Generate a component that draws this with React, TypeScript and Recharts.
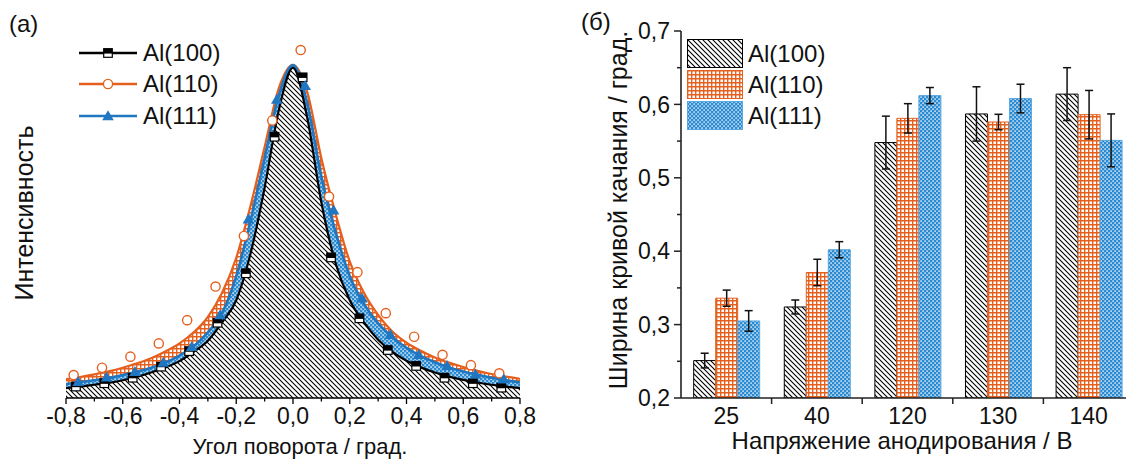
import React from 'react';
import { ComposedChart, Area, Scatter, XAxis, YAxis, BarChart, Bar, ErrorBar } from 'recharts';

// ---------- panel (a) data ----------
const curveX = [-0.8, -0.75, -0.7, -0.65, -0.6, -0.55, -0.5, -0.45, -0.4, -0.35, -0.3, -0.25, -0.2, -0.15, -0.1, -0.05, 0, 0.05, 0.1, 0.15, 0.2, 0.25, 0.3, 0.35, 0.4, 0.45, 0.5, 0.55, 0.6, 0.65, 0.7, 0.75, 0.8];
const curve100 = [0.027, 0.031, 0.036, 0.041, 0.048, 0.057, 0.069, 0.083, 0.1, 0.125, 0.155, 0.205, 0.265, 0.39, 0.57, 0.78, 0.895, 0.76, 0.53, 0.365, 0.265, 0.205, 0.158, 0.125, 0.101, 0.083, 0.069, 0.058, 0.049, 0.042, 0.036, 0.031, 0.027];
const curve111 = [0.038, 0.043, 0.048, 0.054, 0.062, 0.071, 0.082, 0.096, 0.115, 0.14, 0.178, 0.23, 0.33, 0.48, 0.65, 0.82, 0.902, 0.8, 0.6, 0.45, 0.33, 0.255, 0.202, 0.165, 0.136, 0.114, 0.097, 0.083, 0.072, 0.063, 0.055, 0.048, 0.042];
const curve110 = [0.051, 0.057, 0.064, 0.072, 0.082, 0.094, 0.108, 0.126, 0.148, 0.178, 0.22, 0.285, 0.38, 0.52, 0.68, 0.84, 0.903, 0.83, 0.65, 0.5, 0.37, 0.285, 0.225, 0.18, 0.15, 0.128, 0.11, 0.096, 0.084, 0.074, 0.065, 0.058, 0.052];

const mark100X = [-0.765, -0.665, -0.565, -0.465, -0.366, -0.266, -0.166, -0.065, 0.034, 0.134, 0.234, 0.334, 0.434, 0.534, 0.634, 0.734];
const mark100Y = [0.031, 0.04, 0.055, 0.085, 0.127, 0.204, 0.338, 0.708, 0.869, 0.381, 0.216, 0.13, 0.087, 0.055, 0.04, 0.028];
const mark110X = [-0.773, -0.673, -0.573, -0.473, -0.373, -0.273, -0.173, -0.073, 0.027, 0.127, 0.227, 0.327, 0.427, 0.527, 0.627, 0.727];
const mark110Y = [0.062, 0.082, 0.112, 0.148, 0.211, 0.302, 0.439, 0.752, 0.943, 0.546, 0.341, 0.23, 0.166, 0.117, 0.089, 0.067];
const mark111X = [-0.757, -0.657, -0.557, -0.457, -0.357, -0.257, -0.157, -0.057, 0.043, 0.143, 0.243, 0.343, 0.443, 0.543, 0.643, 0.743];
const mark111Y = [0.044, 0.056, 0.071, 0.096, 0.139, 0.225, 0.484, 0.809, 0.846, 0.509, 0.27, 0.171, 0.117, 0.087, 0.064, 0.051];

const leftXTicks = [-0.8, -0.7, -0.6, -0.5, -0.4, -0.3, -0.2, -0.1, 0, 0.1, 0.2, 0.3, 0.4, 0.5, 0.6, 0.7, 0.8];

// ---------- panel (б) data ----------
const voltages = ['25', '40', '120', '130', '140'];
const fwhm100 = [0.251, 0.324, 0.548, 0.587, 0.614];
const err100 = [0.01, 0.0095, 0.036, 0.037, 0.036];
const fwhm110 = [0.336, 0.371, 0.581, 0.576, 0.586];
const err110 = [0.011, 0.018, 0.02, 0.0105, 0.033];
const fwhm111 = [0.305, 0.402, 0.612, 0.608, 0.551];
const err111 = [0.014, 0.011, 0.011, 0.0195, 0.036];
const rightYTicks = [0.2, 0.25, 0.3, 0.35, 0.4, 0.45, 0.5, 0.55, 0.6, 0.65, 0.7];

const seriesNames = ['Al(100)', 'Al(110)', 'Al(111)'];

const curveRows = curveX.map((x, i) => ({ x, c100: curve100[i], c110: curve110[i], c111: curve111[i] }));
const pts = (xs: number[], ys: number[]) => xs.map((x, i) => ({ x, y: ys[i] }));
const barRows = voltages.map((v, i) => ({
  cat: v,
  k: fwhm100[i], kErr: err100[i],
  o: fwhm110[i], oErr: err110[i],
  b: fwhm111[i], bErr: err111[i],
}));

const FONT = '"Liberation Sans", Arial, Helvetica, sans-serif';
const ORANGE = '#e5601e';
const BLUE = '#1f77c2';
const BLUE_FILL = '#2b8bd2';
const fmt = (v: number) => v.toFixed(1).replace('.', ',');
const TS = 6;
const TM = 2;

const Square = (p: any) => {
  const { cx, cy } = p;
  if (cx == null || cy == null) return null;
  return (
    <g>
      <rect x={cx - 4.3} y={cy - 4.3} width={8.6} height={8.6} fill="#fff" stroke="#000" strokeWidth={1.2} />
      <rect x={cx - 4.3} y={cy - 4.3} width={8.6} height={4.9} fill="#000" />
    </g>
  );
};
const Circle = (p: any) => {
  const { cx, cy } = p;
  if (cx == null || cy == null) return null;
  return <circle cx={cx} cy={cy} r={4.6} fill="#fff" stroke={ORANGE} strokeWidth={1.4} />;
};
const Triangle = (p: any) => {
  const { cx, cy } = p;
  if (cx == null || cy == null) return null;
  return <polygon points={`${cx},${cy - 5.8} ${cx + 5.8},${cy + 4.2} ${cx - 5.8},${cy + 4.2}`} fill={BLUE} />;
};

const renderLeftXTick = (p: any) => {
  const { x, y, payload } = p;
  const ay = y - TS - TM;
  const v = payload.value;
  const major = Math.abs(Math.round(v * 10)) % 2 === 0;
  return (
    <g>
      <line x1={x} x2={x} y1={ay} y2={ay + (major ? 6 : 3.5)} stroke="#000" strokeWidth={1.3} />
      {major && (
        <text x={x} y={ay + 26} textAnchor="middle" fontSize={23} fontFamily={FONT} fill="#111">
          {fmt(v)}
        </text>
      )}
    </g>
  );
};

const renderRightYTick = (p: any) => {
  const { x, y, payload } = p;
  const ax = x + TS + TM;
  const v = payload.value;
  const major = Math.round(v * 100) % 10 === 0;
  return (
    <g>
      <line x1={ax} x2={ax - (major ? 7 : 4)} y1={y} y2={y} stroke="#222" strokeWidth={1.5} />
      {major && (
        <text x={ax - 11} y={y} dy="0.36em" textAnchor="end" fontSize={23} fontFamily={FONT} fill="#111">
          {fmt(v)}
        </text>
      )}
    </g>
  );
};

const renderCatTick = (p: any) => {
  const { x, y, payload, index } = p;
  const ay = y - TS - TM;
  let half = payload && typeof payload.offset === 'number' ? payload.offset : p.offset;
  if (typeof half !== 'number' || !(half > 0)) half = (p.width || 453) / (p.visibleTicksCount || 5) / 2;
  return (
    <g>
      {index > 0 && <line x1={x - half} x2={x - half} y1={ay} y2={ay + 6} stroke="#222" strokeWidth={1.5} />}
      <text x={x} y={ay + 26} textAnchor="middle" fontSize={23} fontFamily={FONT} fill="#111">
        {payload.value}
      </text>
    </g>
  );
};

const txt: React.CSSProperties = { position: 'absolute', fontFamily: FONT, color: '#111', whiteSpace: 'nowrap', lineHeight: 1 };

const LegendIconLine = ({ idx }: { idx: number }) => {
  const color = idx === 0 ? '#000' : idx === 1 ? ORANGE : BLUE;
  return (
    <svg width={60} height={14} style={{ display: 'block' }}>
      <line x1={1} x2={59} y1={7} y2={7} stroke={color} strokeWidth={2.4} />
      {idx === 0 && <Square cx={30} cy={7} />}
      {idx === 1 && <Circle cx={30} cy={7} />}
      {idx === 2 && <Triangle cx={30} cy={7} />}
    </svg>
  );
};

const swatchFill = ['url(#hatchK)', 'url(#gridO)', 'url(#dotsB)'];
const swatchStroke = ['#000', ORANGE, '#5aa8e0'];

export default function App() {
  return (
    <div style={{ position: 'fixed', left: 0, top: 0, width: 1126, height: 464, overflow: 'hidden', background: '#fff' }}>
      <svg width={0} height={0} style={{ position: 'absolute' }}>
        <defs>
          <pattern id="hatchK" width="5" height="5" patternUnits="userSpaceOnUse">
            <rect width="5" height="5" fill="#fff" />
            <path d="M-1,-1 L6,6 M-1,4 L1,6 M4,-1 L6,1" stroke="#000" strokeWidth="1.1" />
          </pattern>
          <pattern id="gridO" width="4" height="4" patternUnits="userSpaceOnUse">
            <rect width="4" height="4" fill="#fff" />
            <path d="M0,0.7 H4 M0.7,0 V4" stroke={ORANGE} strokeWidth="1.4" />
          </pattern>
          <pattern id="dotsB" width="4" height="4" patternUnits="userSpaceOnUse">
            <rect width="4" height="4" fill={BLUE_FILL} />
            <rect x="0.4" y="0.4" width="1.4" height="1.4" fill="#fff" />
            <rect x="2.4" y="2.4" width="1.4" height="1.4" fill="#fff" />
          </pattern>
        </defs>
      </svg>

      {/* panel (a) */}
      <div style={{ position: 'absolute', left: 0, top: 0 }}>
        <ComposedChart width={540} height={464} data={curveRows} margin={{ top: 29, left: 66, right: 20, bottom: 36 }}>
          <XAxis dataKey="x" type="number" domain={[-0.8, 0.8]} ticks={leftXTicks} interval={0} allowDataOverflow
            tickLine={false} tickSize={TS} tickMargin={TM} height={30} tick={renderLeftXTick}
            axisLine={{ stroke: '#000', strokeWidth: 1.6 }} />
          <XAxis xAxisId="top" orientation="top" dataKey="x" type="number" domain={[-0.8, 0.8]} height={0}
            tick={false} tickLine={false} axisLine={{ stroke: '#000', strokeWidth: 1.6 }} />
          <YAxis type="number" domain={[0, 1]} width={0} tick={false} tickLine={false} allowDataOverflow
            axisLine={{ stroke: '#000', strokeWidth: 1.6 }} />
          <YAxis yAxisId="r" orientation="right" type="number" domain={[0, 1]} width={0} tick={false} tickLine={false}
            axisLine={{ stroke: '#000', strokeWidth: 1.6 }} />
          <Area type="monotone" dataKey="c110" stroke={ORANGE} strokeWidth={2.2} fill="url(#gridO)" fillOpacity={1}
            isAnimationActive={false} dot={false} activeDot={false} />
          <Area type="monotone" dataKey="c111" stroke={BLUE} strokeWidth={2.6} fill="url(#dotsB)" fillOpacity={1}
            isAnimationActive={false} dot={false} activeDot={false} />
          <Area type="monotone" dataKey="c100" stroke="#000" strokeWidth={2.2} fill="url(#hatchK)" fillOpacity={1}
            isAnimationActive={false} dot={false} activeDot={false} />
          <Scatter data={pts(mark110X, mark110Y)} dataKey="y" shape={Circle} isAnimationActive={false} />
          <Scatter data={pts(mark100X, mark100Y)} dataKey="y" shape={Square} isAnimationActive={false} />
          <Scatter data={pts(mark111X, mark111Y)} dataKey="y" shape={Triangle} isAnimationActive={false} />
        </ComposedChart>
      </div>

      {/* panel (б) */}
      <div style={{ position: 'absolute', left: 560, top: 0 }}>
        <BarChart width={600} height={464} data={barRows} margin={{ top: 31, left: 61, right: 26, bottom: 36 }}
          barCategoryGap="14%" barGap={0}>
          <XAxis dataKey="cat" interval={0} height={30} tickSize={TS} tickMargin={TM} tickLine={false}
            tick={renderCatTick} axisLine={{ stroke: '#222', strokeWidth: 1.6 }} />
          <XAxis xAxisId="top" orientation="top" dataKey="cat" height={0} tick={false} tickLine={false}
            axisLine={{ stroke: '#222', strokeWidth: 1.6 }} />
          <YAxis type="number" domain={[0.2, 0.7]} ticks={rightYTicks} interval={0} allowDataOverflow width={60}
            tickLine={false} tickSize={TS} tickMargin={TM} tick={renderRightYTick} axisLine={{ stroke: '#222', strokeWidth: 1.6 }} />
          <Bar dataKey="k" fill={swatchFill[0]} stroke={swatchStroke[0]} strokeWidth={1} isAnimationActive={false}>
            <ErrorBar dataKey="kErr" width={4} stroke="#111" strokeWidth={1.5} />
          </Bar>
          <Bar dataKey="o" fill={swatchFill[1]} stroke={swatchStroke[1]} strokeWidth={1} isAnimationActive={false}>
            <ErrorBar dataKey="oErr" width={4} stroke="#111" strokeWidth={1.5} />
          </Bar>
          <Bar dataKey="b" fill={swatchFill[2]} stroke={swatchStroke[2]} strokeWidth={1} isAnimationActive={false}>
            <ErrorBar dataKey="bErr" width={4} stroke="#111" strokeWidth={1.5} />
          </Bar>
        </BarChart>
      </div>

      {/* labels */}
      <div style={{ ...txt, left: 9, top: 12, fontSize: 24 }}>(a)</div>
      <div style={{ ...txt, left: 581, top: 10, fontSize: 24 }}>(б)</div>

      <div style={{ ...txt, left: 24, top: 213, fontSize: 25, transform: 'translate(-50%, -50%) rotate(-90deg)' }}>Интенсивность</div>
      <div style={{ ...txt, left: 300, top: 447, fontSize: 22, transform: 'translate(-50%, -50%)' }}>Угол поворота / град.</div>

      <div style={{ ...txt, left: 618, top: 210, fontSize: 25, transform: 'translate(-50%, -50%) rotate(-90deg)' }}>Ширина кривой качания / град.</div>
      <div style={{ ...txt, left: 902, top: 441, fontSize: 24, transform: 'translate(-50%, -50%)' }}>Напряжение анодирования / В</div>

      {/* legend (a) */}
      {seriesNames.map((n, i) => (
        <div key={n} style={{ position: 'absolute', left: 78, top: [53, 84, 116][i] - 12, height: 24, display: 'flex', alignItems: 'center' }}>
          <LegendIconLine idx={i} />
          <span style={{ fontFamily: FONT, fontSize: 24, color: '#111', marginLeft: 5, lineHeight: 1 }}>{n}</span>
        </div>
      ))}

      {/* legend (б) */}
      {seriesNames.map((n, i) => (
        <div key={'b' + n} style={{ position: 'absolute', left: 687, top: [39, 70, 101][i], height: 29, display: 'flex', alignItems: 'center' }}>
          <svg width={56} height={29} style={{ display: 'block' }}>
            <rect x={0.5} y={0.5} width={55} height={28} fill={swatchFill[i]} stroke={swatchStroke[i]} strokeWidth={1} />
          </svg>
          <span style={{ fontFamily: FONT, fontSize: 24, color: '#111', marginLeft: 5, lineHeight: 1 }}>{n}</span>
        </div>
      ))}
    </div>
  );
}
